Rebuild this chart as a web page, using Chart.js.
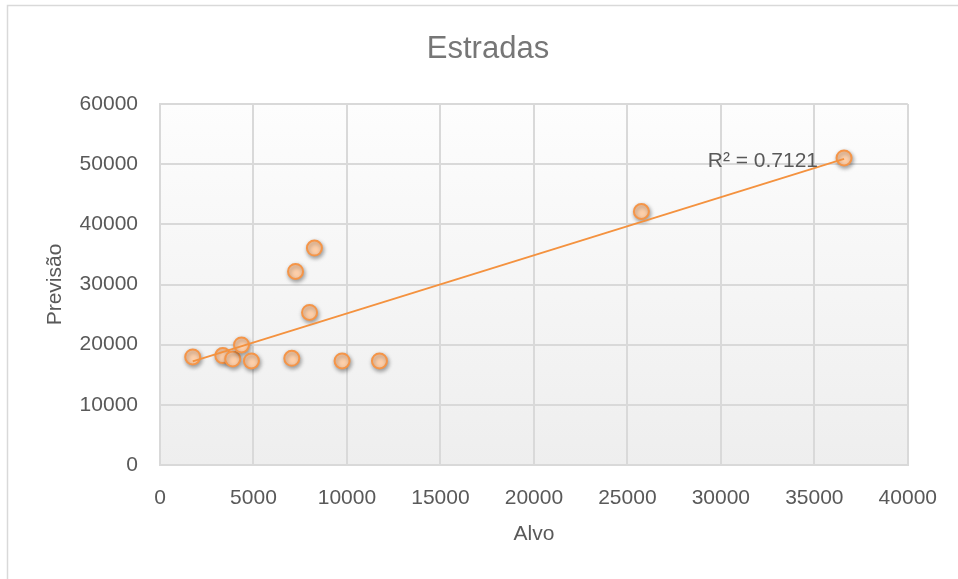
<!DOCTYPE html>
<html>
<head>
<meta charset="utf-8">
<title>Estradas</title>
<script src="https://cdn.jsdelivr.net/npm/chart.js@4.4.1/dist/chart.umd.min.js"></script>
<style>
  html, body { margin: 0; padding: 0; background: #ffffff; }
  #wrap { width: 958px; height: 579px; position: relative; }
</style>
</head>
<body>
<div id="wrap"><canvas id="chart" width="958" height="579"></canvas></div>
<script>
// Texts
const chartTitle = 'Estradas';
const xAxisTitle = 'Alvo';
const yAxisTitle = 'Previsão';
const r2Label = 'R² = 0.7121';

// Observed target (Alvo) vs. forecast (Previsão)
const alvo     = [1750, 3360, 3890, 4360, 4890, 7050, 7250, 8000, 8260, 9740, 11740, 25750, 36590];
const previsao = [17960, 18180, 17630, 19950, 17300, 17730, 32170, 25360, 36050, 17300, 17300, 42130, 51040];

// Axis ticks
const xTicks = [0, 5000, 10000, 15000, 20000, 25000, 30000, 35000, 40000];
const yTicks = [0, 10000, 20000, 30000, 40000, 50000, 60000];

// Least-squares linear trendline over the observed points
function linearFit(xs, ys) {
  const n = xs.length;
  const mx = xs.reduce((a, b) => a + b, 0) / n;
  const my = ys.reduce((a, b) => a + b, 0) / n;
  let sxy = 0, sxx = 0;
  for (let i = 0; i < n; i++) {
    sxy += (xs[i] - mx) * (ys[i] - my);
    sxx += (xs[i] - mx) * (xs[i] - mx);
  }
  const slope = sxy / sxx;
  return { slope, intercept: my - slope * mx };
}
const fit = linearFit(alvo, previsao);
const xMin = Math.min(...alvo), xMax = Math.max(...alvo);
const trendPoints = [
  { x: xMin, y: fit.intercept + fit.slope * xMin },
  { x: xMax, y: fit.intercept + fit.slope * xMax }
];
const scatterPoints = alvo.map((x, i) => ({ x, y: previsao[i] }));

const FONT = '"Liberation Sans", Arial, sans-serif';
const TEXT = '#595959';
const GRID = '#d9d9d9';
const ORANGE = '#f4923f';

// Background, frame, plot-area shading and the free-standing texts
const decorations = {
  id: 'decorations',
  beforeDraw(chart) {
    const { ctx, chartArea: a } = chart;
    ctx.save();
    ctx.fillStyle = '#ffffff';
    ctx.fillRect(0, 0, chart.width, chart.height);
    ctx.strokeStyle = '#d9d9d9';
    ctx.lineWidth = 1.5;
    ctx.strokeRect(7.5, 5.5, chart.width + 20, chart.height + 20);
    const g = ctx.createLinearGradient(0, a.top, 0, a.bottom);
    g.addColorStop(0, '#fdfdfd');
    g.addColorStop(1, '#eeeeee');
    ctx.fillStyle = g;
    ctx.fillRect(a.left, a.top, a.right - a.left, a.bottom - a.top);
    ctx.restore();
  },
  afterDraw(chart) {
    const { ctx, chartArea: a } = chart;
    ctx.save();
    ctx.fillStyle = '#767676';
    ctx.font = '31px ' + FONT;
    ctx.textAlign = 'center';
    ctx.textBaseline = 'middle';
    ctx.fillText(chartTitle, 488, 49);

    ctx.fillStyle = TEXT;
    ctx.font = '21px ' + FONT;
    ctx.fillText(xAxisTitle, (a.left + a.right) / 2, a.bottom + 69);

    ctx.save();
    ctx.translate(55, (a.top + a.bottom) / 2);
    ctx.rotate(-Math.PI / 2);
    ctx.fillText(yAxisTitle, 0, 0);
    ctx.restore();

    // R² label placed next to the trendline's right end
    const xs = chart.scales.x, ys = chart.scales.y;
    const ex = xs.getPixelForValue(trendPoints[1].x);
    const ey = ys.getPixelForValue(trendPoints[1].y);
    ctx.textAlign = 'right';
    ctx.fillText(r2Label, ex - 26, ey + 2);
    ctx.restore();
  }
};

// Soft drop shadow under the markers
const markerShadow = {
  id: 'markerShadow',
  beforeDatasetDraw(chart, args) {
    if (args.index !== 0) return;
    const ctx = chart.ctx;
    ctx.save();
    ctx.shadowColor = 'rgba(0,0,0,0.35)';
    ctx.shadowBlur = 4;
    ctx.shadowOffsetX = 1;
    ctx.shadowOffsetY = 2;
  },
  afterDatasetDraw(chart, args) {
    if (args.index !== 0) return;
    chart.ctx.restore();
  }
};

new Chart(document.getElementById('chart'), {
  type: 'scatter',
  data: {
    datasets: [
      {
        label: 'Previsão',
        data: scatterPoints,
        order: 1,
        pointRadius: 7.5,
        pointHoverRadius: 7.5,
        pointBorderWidth: 2,
        pointBorderColor: '#f59548',
        pointBackgroundColor: '#fdcfaa'
      },
      {
        type: 'line',
        label: 'Linear',
        data: trendPoints,
        order: 0,
        borderColor: ORANGE,
        borderWidth: 2,
        pointRadius: 0,
        fill: false,
        tension: 0
      }
    ]
  },
  options: {
    responsive: false,
    animation: false,
    devicePixelRatio: 1,
    layout: { padding: { left: 0, right: 50, top: 104, bottom: 0 } },
    plugins: {
      legend: { display: false },
      title: { display: false },
      tooltip: { enabled: false }
    },
    scales: {
      x: {
        type: 'linear',
        min: xTicks[0],
        max: xTicks[xTicks.length - 1],
        afterBuildTicks: s => { s.ticks = xTicks.map(v => ({ value: v })); },
        afterFit: s => { s.height = 114; },
        grid: { color: GRID, lineWidth: 2, drawTicks: false },
        border: { color: GRID, width: 2 },
        ticks: {
          color: TEXT, padding: 21, maxRotation: 0, autoSkip: false,
          font: { family: FONT, size: 21 },
          callback: v => String(v)
        }
      },
      y: {
        type: 'linear',
        min: yTicks[0],
        max: yTicks[yTicks.length - 1],
        afterBuildTicks: s => { s.ticks = yTicks.map(v => ({ value: v })); },
        afterFit: s => { s.width = 160; },
        grid: { color: GRID, lineWidth: 2, drawTicks: false },
        border: { color: GRID, width: 2 },
        ticks: {
          color: TEXT, padding: 22, autoSkip: false,
          font: { family: FONT, size: 21 },
          callback: v => String(v)
        }
      }
    }
  },
  plugins: [decorations, markerShadow]
});
</script>
</body>
</html>
